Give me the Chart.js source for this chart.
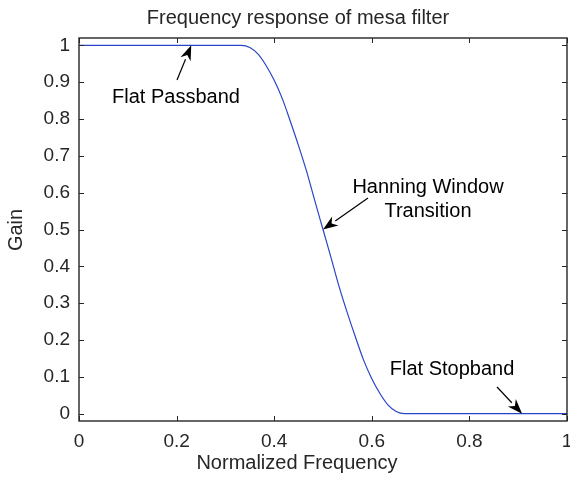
<!DOCTYPE html>
<html lang="en">
<head>
    <meta charset="UTF-8">
    <title>Frequency response of mesa filter</title>
    <script src="https://cdn.jsdelivr.net/npm/chart.js"></script>
    <style>
        body { margin: 0; background: #fff; }
    </style>
</head>
<body>
    <canvas id="chart" width="570" height="480"></canvas>
    <script>
        // frequency samples and gain
        const freq = [0, 0.333, 0.35, 0.367, 0.383, 0.4, 0.417, 0.433, 0.45, 0.467, 0.483,
                      0.5, 0.517, 0.533, 0.55, 0.567, 0.583, 0.6, 0.617, 0.633, 0.65, 0.667, 1];
        const gain = [1, 1, 0.994, 0.976, 0.946, 0.905, 0.854, 0.794, 0.727, 0.655, 0.579,
                      0.5, 0.421, 0.345, 0.273, 0.206, 0.146, 0.095, 0.054, 0.024, 0.006, 0, 0];

        const xTicks = [0, 0.2, 0.4, 0.6, 0.8, 1];
        const yTicks = [0, 0.1, 0.2, 0.3, 0.4, 0.5, 0.6, 0.7, 0.8, 0.9, 1];

        // annotation labels and where their arrows point (data units)
        const noteText = [['Flat Passband'], ['Hanning Window', 'Transition'], ['Flat Stopband']];
        const noteTip = [[0.23, 1], [0.5, 0.5], [0.908, 0]];

        const FONT = '"Liberation Sans", Arial, sans-serif';
        const INK = '#262626';

        // text pos (px) and arrow tail pos (px) for each note
        const notePx = [
            { x: 176, y: 97, tail: [177, 80] },
            { x: 428, y: 187, tail: [368, 198] },
            { x: 452, y: 369, tail: [497, 387] }
        ];

        function arrow(ctx, x0, y0, x1, y1) {
            const a = Math.atan2(y1 - y0, x1 - x0);
            const len = 15, w = 5.5;
            const bx = x1 - len * Math.cos(a), by = y1 - len * Math.sin(a);
            ctx.beginPath();
            ctx.moveTo(x0, y0);
            ctx.lineTo(bx, by);
            ctx.stroke();
            ctx.beginPath();
            ctx.moveTo(x1, y1);
            ctx.lineTo(bx + w * Math.sin(a), by - w * Math.cos(a));
            ctx.lineTo(x1 - 0.7 * len * Math.cos(a), y1 - 0.7 * len * Math.sin(a));
            ctx.lineTo(bx - w * Math.sin(a), by + w * Math.cos(a));
            ctx.closePath();
            ctx.fill();
        }

        const framePlugin = {
            id: 'frame',
            afterDraw(chart) {
                const ctx = chart.ctx;
                const a = chart.chartArea;
                const sx = chart.scales.x, sy = chart.scales.y;
                ctx.save();
                ctx.strokeStyle = INK;
                ctx.lineWidth = 1.4;
                ctx.strokeRect(a.left, a.top, a.right - a.left, a.bottom - a.top);
                ctx.lineWidth = 1;
                const tl = 5;
                ctx.beginPath();
                xTicks.forEach(v => {
                    const px = Math.round(sx.getPixelForValue(v)) + 0.5;
                    ctx.moveTo(px, a.bottom); ctx.lineTo(px, a.bottom - tl);
                    ctx.moveTo(px, a.top); ctx.lineTo(px, a.top + tl);
                });
                yTicks.forEach(v => {
                    const py = Math.round(sy.getPixelForValue(v)) + 0.5;
                    ctx.moveTo(a.left, py); ctx.lineTo(a.left + tl, py);
                    ctx.moveTo(a.right, py); ctx.lineTo(a.right - tl, py);
                });
                ctx.stroke();

                // title and axis labels
                ctx.fillStyle = INK;
                ctx.textAlign = 'center';
                ctx.textBaseline = 'middle';
                ctx.font = '20px ' + FONT;
                ctx.fillText('Frequency response of mesa filter', 298, 18);
                ctx.fillText('Normalized Frequency', 297, 463);
                ctx.save();
                ctx.translate(16, 230);
                ctx.rotate(-Math.PI / 2);
                ctx.fillText('Gain', 0, 0);
                ctx.restore();

                // annotations
                ctx.fillStyle = '#000';
                ctx.strokeStyle = '#000';
                ctx.lineWidth = 1.2;
                noteText.forEach((lines, i) => {
                    const p = notePx[i];
                    lines.forEach((t, j) => ctx.fillText(t, p.x, p.y + j * 24));
                    const tx = sx.getPixelForValue(noteTip[i][0]);
                    const ty = sy.getPixelForValue(noteTip[i][1]);
                    arrow(ctx, p.tail[0], p.tail[1], tx, ty);
                });
                ctx.restore();
            }
        };

        new Chart(document.getElementById('chart'), {
            type: 'scatter',
            data: {
                datasets: [{
                    data: freq.map((f, i) => ({ x: f, y: gain[i] })),
                    showLine: true,
                    borderColor: '#2a44c8',
                    borderWidth: 1.2,
                    pointRadius: 0,
                    cubicInterpolationMode: 'monotone'
                }]
            },
            options: {
                responsive: false,
                animation: false,
                layout: { padding: { left: 0, top: 38, right: 3, bottom: 0 } },
                plugins: {
                    legend: { display: false },
                    tooltip: { enabled: false }
                },
                scales: {
                    x: {
                        type: 'linear',
                        min: 0,
                        max: 1,
                        grid: { display: false, drawTicks: false },
                        border: { display: false },
                        afterBuildTicks: s => { s.ticks = xTicks.map(v => ({ value: v })); },
                        afterFit: s => { s.height = 59; s.paddingLeft = 0; s.paddingRight = 0; },
                        ticks: {
                            padding: 9,
                            color: INK,
                            font: { family: FONT, size: 19 },
                            maxRotation: 0,
                            callback: v => String(v)
                        }
                    },
                    y: {
                        min: -0.02,
                        max: 1.02,
                        grid: { display: false, drawTicks: false },
                        border: { display: false },
                        afterBuildTicks: s => { s.ticks = yTicks.map(v => ({ value: v })); },
                        afterFit: s => { s.width = 79; s.paddingTop = 0; s.paddingBottom = 0; },
                        ticks: {
                            padding: 9,
                            color: INK,
                            font: { family: FONT, size: 19 },
                            callback: v => String(v)
                        }
                    }
                }
            },
            plugins: [framePlugin]
        });
    </script>
</body>
</html>
